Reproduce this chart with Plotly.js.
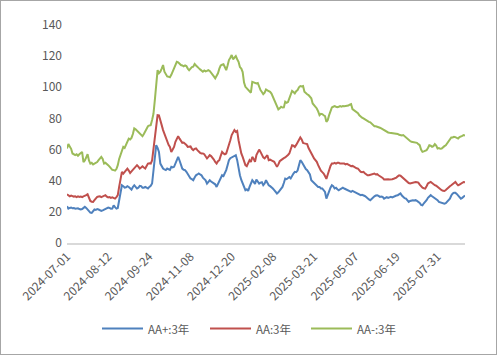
<!DOCTYPE html>
<html>
<head>
<meta charset="utf-8">
<script src="https://cdn.plot.ly/plotly-3.0.1.min.js"></script>
<style>
html,body{margin:0;padding:0;background:#fff;}
#wrap{position:relative;width:497px;height:355px;}
#chart{position:absolute;left:0;top:0;width:497px;height:355px;}
#frame{position:absolute;left:0;top:0;width:497px;height:355px;box-sizing:border-box;border:1px solid #a6a6a6;pointer-events:none;}
</style>
</head>
<body>
<div id="wrap"><div id="chart"></div><div id="frame"></div></div>
<script>
// ---- categories: trading days of the Chinese interbank market ----
const startDate = "2024-07-01";
const pointCount = 291;
const holidays = ["2024-09-16","2024-09-17","2024-10-01","2024-10-02","2024-10-03","2024-10-04","2024-10-07",
  "2025-01-01","2025-01-28","2025-01-29","2025-01-30","2025-01-31","2025-02-03","2025-02-04",
  "2025-04-04","2025-05-01","2025-05-02","2025-05-05","2025-06-02"];
const makeupDays = ["2024-09-14","2024-09-29","2024-10-12","2025-01-26","2025-02-08","2025-04-27"];

// ---- tick labels ----
const tickLabels = ["2024-07-01","2024-08-12","2024-09-24","2024-11-08","2024-12-20",
  "2025-02-08","2025-03-21","2025-05-07","2025-06-19","2025-07-31"];
const yTicks = [0,20,40,60,80,100,120,140];

// ---- series names ----
const seriesNames = ["AA+:3年","AA:3年","AA-:3年"];

// ---- series values ----
const aaPlus = [
23.6,22.1,22.5,22.8,22.3,22.5,22,22.1,22.3,21.8,21.5,21.8,22.5,23.2,22.5,21.5,20.5,19.5,19.3,20.5,
21.5,21.2,21.8,21.5,21,20.6,21,21.5,22,22.3,22.8,22.5,22,22.1,24.2,23,22.1,22.5,28,33.9,
37.1,36.5,35.6,35.8,36.5,36,35,34.3,36,37.1,36,35,35.5,36.7,36.5,35.5,35.5,36,35.5,35,
36,36.7,38.2,46.8,55,62.8,61,58.5,51,49,47.8,47.2,46.8,47.8,47.5,47,48.9,48.5,48.9,51,
53.5,55.3,53,50,47.8,47,46.8,45.7,44,42.4,41.4,41,40.3,42,43.5,44,44.6,44,43.5,42,
41.4,40.3,38.2,39.5,40.3,39.5,39,38.2,37.7,36,38,40.3,42,43.5,43,44.5,46.8,50,53.2,54.5,
55,55.3,56,56.4,53.2,47,43.5,40.5,38.2,35.5,33.9,34.5,33.4,36,38,40.3,39.2,38,40.8,39.5,
38.2,38.8,39,37.1,38.2,40.3,38.5,37.1,36.5,36,35,34,33,31.8,32.5,33.9,35,36,38.5,41.4,
41,42,42.4,41.5,43.5,44.6,45.7,45.5,46.5,50,53.2,52.1,50.5,48.9,47.5,46.8,45.7,44,40.3,39.5,
38.2,37.5,36.5,36,36,35,35,33.5,32.8,28.5,31,33.9,35.5,37.1,36.5,35,35.5,34.5,33.9,34.5,
35,35.5,35,34.5,34,33.9,33.4,32.8,33.5,33,32.5,31.8,31.8,31,30.7,31,30.7,30.2,29.5,28.5,
28,27.5,28.5,29.6,30,30.5,30.7,30.2,29.6,29.8,29.6,28.5,29,29.5,29,29.5,29.6,29.3,29.8,30,
30.5,30.7,31.5,31.8,30.5,29.6,28.8,28.5,27.5,26.4,27,27.5,27.5,27.3,27.5,27,26.5,25.7,24.5,24.2,
25.5,26.4,27.5,29,30,30.7,30,29.5,29,28.5,27.5,26.4,26,25.6,25.3,25.3,25.6,26.5,27.5,28.5,
30.5,31.8,32.2,32.2,31.5,30.7,29.5,28.5,29,30,30.5];

const aa = [
31.3,30.5,30,30.5,30,29.8,30,29.5,30,29.6,29.8,29.5,30,30.2,30.7,31.3,29,27,26.5,26.4,
27.5,28.5,29.6,29.8,30,29.5,30,30.5,30.7,29.8,29.3,29.5,29,29.3,28.8,28.5,29.5,30.7,36,40.3,
45.7,44.5,45.7,46.5,47.8,46.5,45,46,47,47.8,49,50,49,47.8,48.5,49.3,48.5,47.8,49.5,51,
51.2,51,53,60,66,72.5,82.1,82,78,75.7,72.5,70,67.5,66,63,61.7,58.5,60,61.7,65,
67,68.6,67,66,64.3,64.5,64,63,61.7,62,62,60.5,59.6,60.5,60.7,59.6,58.5,57.9,57.5,57.5,
57,56,54.3,55.3,56.4,55.8,55,53.6,52,51,52.5,53.2,56,58.5,57.5,57,57.5,60,62.8,66,
69.3,71.4,72.5,71.4,72,66,60.7,57.5,55.3,52,50,49.3,51,53.2,52,55.3,54,52.1,56.4,58,
60,58.5,56.5,55,54.3,55.5,56.4,53.2,53.5,53,52.5,52.1,50.5,48.9,50.5,52.5,53.2,54,54.5,54.9,
55.5,56.5,57.5,60,62.8,62.5,61.7,63,64.5,66,67.8,66.5,64.3,64,63.8,63.5,61,59,57.5,56,
54.3,53.5,52.1,50,48,46.5,45.5,44.6,43,41.2,44,47.8,49.5,51,51,51.5,51,51.5,51.5,51,
51.2,51,51,50.5,50.8,50,49.8,49.3,49.5,49,48.2,48,47.8,46.8,45.7,45.5,45.7,44.8,44,43.5,
43.5,43.8,44.2,44.6,44.6,44,44.2,43.5,43,42.4,41.8,40.8,41,40.8,41,40.8,40.8,41,41.3,41.5,
42,42.8,43.5,43.2,42.4,41.5,40.5,40,39.2,38.5,38.2,38.5,39,39.2,39.2,39,38.8,37.5,36.2,35.5,
35.2,35,36.5,38.2,38.8,39.2,38.5,37.5,37.1,36.8,36,35,34.2,33.9,33.5,33.4,34,35,35.5,36.5,
37.1,38,38.8,39.2,38,37.1,37.5,38.2,38.5,39.2,39];

const aaMinus = [
60.7,63.5,62,60.5,57.5,57,56.5,57,56,57,57.5,58.5,52,53,55,57,53,51,51.5,50.5,
51,51.5,52,53.2,54,55.3,54,51,51.5,51,50,49,48,47,46.8,46.5,47.5,50,54,56.4,
60,61.7,61,62.7,65,67,66.5,67.5,70,73.6,73,72,71,70.4,69,68.6,70,72,73,75,
75.5,75.7,79,83,91.8,101.4,111,109,110,112,114.3,110,108.5,107,106.8,106.4,108,110,112,114.3,
116.4,116,115,114.3,114,113.5,114,113.6,112,111,112,113,113.2,115,114,112.8,112.3,111.5,110.5,110,
110.8,110.2,110.5,111,110.5,109.5,108.5,107,105.7,107,109,112,114,114.5,114.8,113,111,114,117.5,119,
120.7,118,119,120,118,116.4,113,112,109.8,103,100.3,99.3,98.2,97,96.5,103.5,103,102.5,102.5,102.8,
100,98.2,97,95.6,96.5,98.6,98,97.5,97.1,96,93.9,92.5,90.7,88,85.8,86.5,87.5,87,87.1,90.7,
90,90.5,92.9,95,97.7,97,96.1,97.5,98.2,100,100.8,100.5,100.8,97.1,96,95.5,95,93.5,92.9,89.6,
88.5,87.5,86.4,84.5,82.1,83,82.8,82,81.5,77.8,79,82.1,85,87.1,87.5,87.9,87.5,87.2,87.5,87.9,
87.5,88,87.9,88,88.2,88.3,88.8,89.2,86,85.3,84.8,84.2,83.4,82,81,80.5,80,79.3,78.8,78.2,
77.8,77.5,76.8,76,75,75,74.5,74.2,74,73.6,73,72.5,72,71.4,71,70.8,70.7,70.7,70.5,70.3,
70.3,70,69.5,69.3,69,69.3,68.5,67.5,66.5,66,65.5,65,64.8,64.5,64.5,64.3,63.5,62.8,60,58.5,
58.8,59,59.6,61,62.8,62.5,61.8,62.2,63.5,62.5,60.7,61,60.5,60.7,61.2,62.2,62.8,63.9,65,66.5,
67.8,67.8,68.2,68,67.5,67.1,68,68.2,68.8,69.3,69];

const seriesColors = ["#4F81BD","#C0504D","#9BBB59"];

// build trading-day categories
function buildDates(){
  const out = [];
  const d = new Date(startDate + "T00:00:00Z");
  while (out.length < pointCount) {
    const s = d.toISOString().slice(0,10);
    const wd = d.getUTCDay();
    const isWork = (wd !== 0 && wd !== 6 && holidays.indexOf(s) < 0) || makeupDays.indexOf(s) >= 0;
    if (isWork) out.push(s);
    d.setUTCDate(d.getUTCDate() + 1);
  }
  return out;
}
const dates = buildDates();

const seriesValues = [aaPlus, aa, aaMinus];
const traces = seriesValues.map((vals, k) => ({
  type: "scatter",
  mode: "lines",
  name: seriesNames[k],
  x: dates.slice(0, vals.length),
  y: vals,
  line: {color: seriesColors[k], width: 2},
  showlegend: false,
  hoverinfo: "x+y+name"
}));

// ---- legend drawn in layout (Excel-style long keys) ----
const W = 497, H = 355, M = {l: 67, r: 32, t: 25, b: 112};
const PW = W - M.l - M.r, PH = H - M.t - M.b;
const px = v => (v - M.l) / PW;          // pixel -> paper x
const py = v => (H - M.b - v) / PH;      // pixel -> paper y
const legendKeyStart = [102, 210, 311];
const legendKeyLen = 41;
const legendY = 328.5;
const legendFont = {family: "'Noto Sans CJK SC', sans-serif", size: 11.5, color: "#595959"};

const shapes = seriesNames.map((n, k) => ({
  type: "line", xref: "paper", yref: "paper",
  x0: px(legendKeyStart[k]), x1: px(legendKeyStart[k] + legendKeyLen),
  y0: py(legendY), y1: py(legendY),
  line: {color: seriesColors[k], width: 2}
}));
const annotations = seriesNames.map((n, k) => ({
  xref: "paper", yref: "paper",
  x: px(legendKeyStart[k] + legendKeyLen + 3), y: py(legendY),
  xanchor: "left", yanchor: "middle",
  text: n, showarrow: false, font: legendFont
}));

const tickFont = {family: "'Noto Sans CJK SC', 'Noto Sans', sans-serif", size: 12, color: "#595959"};

const layout = {
  width: W, height: H,
  margin: M,
  paper_bgcolor: "#ffffff",
  plot_bgcolor: "#ffffff",
  showlegend: false,
  shapes: shapes,
  annotations: annotations,
  xaxis: {
    type: "category",
    categoryorder: "array",
    categoryarray: dates,
    range: [0, dates.length - 1],
    tickmode: "array",
    tickvals: tickLabels,
    ticktext: tickLabels,
    tickangle: -45,
    tickfont: tickFont,
    showgrid: false,
    zeroline: false,
    showline: true,
    linecolor: "#D9D9D9",
    linewidth: 2,
    ticks: "",
    fixedrange: true
  },
  yaxis: {
    range: [0, 140],
    tickmode: "array",
    tickvals: yTicks,
    tickfont: tickFont,
    ticklabelstandoff: 4,
    showgrid: false,
    zeroline: false,
    showline: false,
    ticks: "",
    fixedrange: true
  }
};

Plotly.newPlot("chart", traces, layout, {displayModeBar: false, staticPlot: true});
</script>
</body>
</html>
